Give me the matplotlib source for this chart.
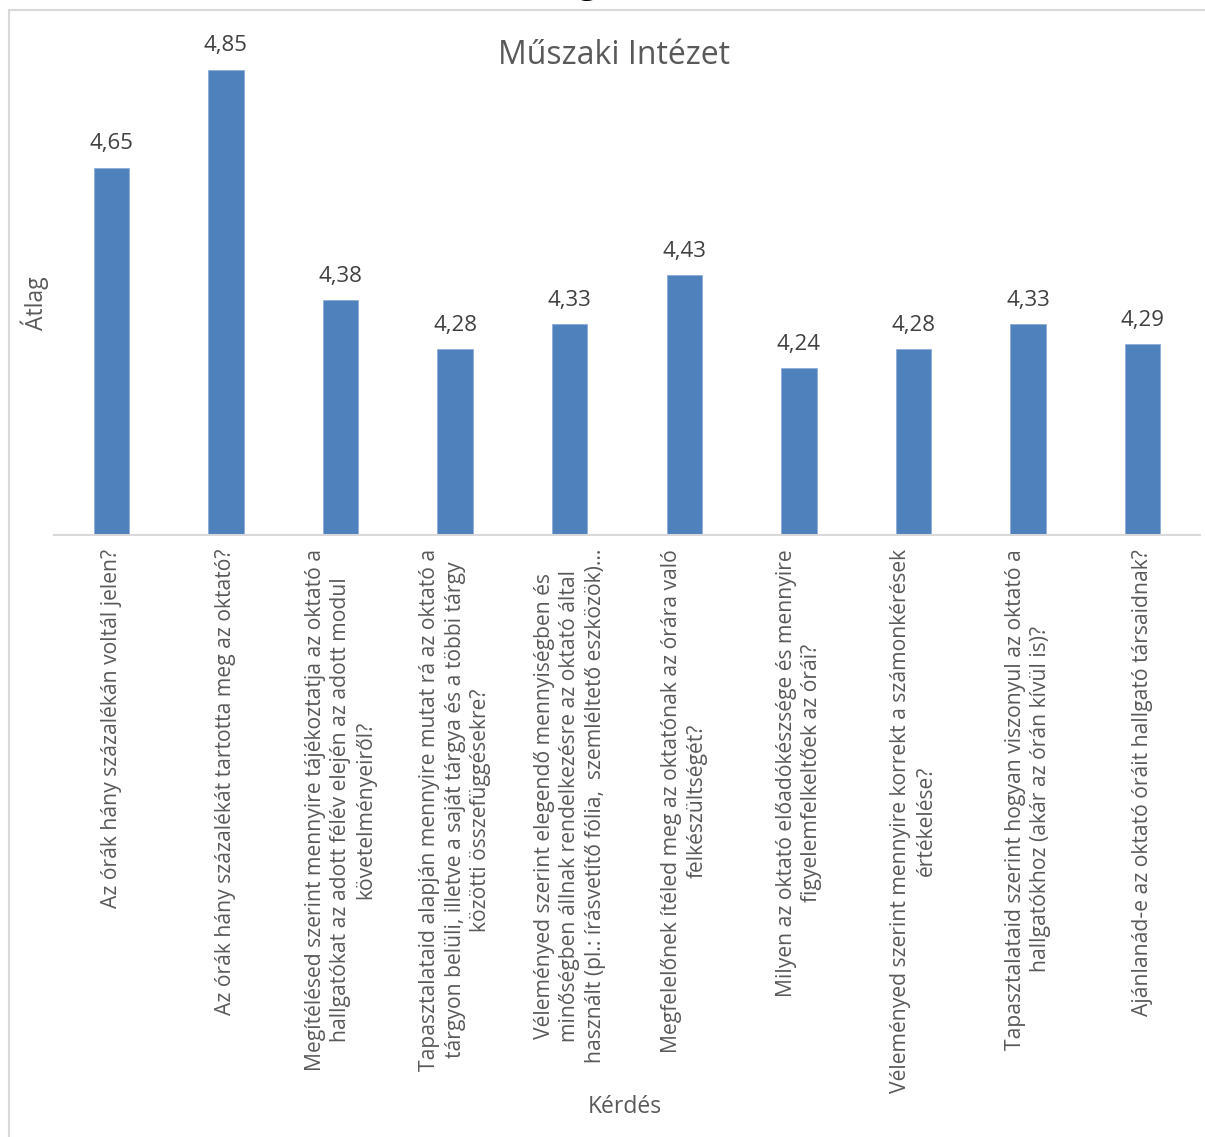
import matplotlib.pyplot as plt
from matplotlib.patches import Rectangle

# data
kerdesek = [
    "Az órák hány százalékán voltál jelen?",
    "Az órák hány százalékát tartotta meg az oktató?",
    "Megítélésed szerint mennyire tájékoztatja az oktató a\nhallgatókat az adott félév elején az adott modul\nkövetelményeiről?",
    "Tapasztalataid alapján mennyire mutat rá az oktató a\ntárgyon belüli, illetve a saját tárgya és a többi tárgy\nközötti összefüggésekre?",
    "Véleményed szerint elegendő mennyiségben és\nminőségben állnak rendelkezésre az oktató által\nhasznált (pl.: írásvetítő fólia,  szemléltető eszközök)...",
    "Megfelelőnek ítéled meg az oktatónak az órára való\nfelkészültségét?",
    "Milyen az oktató előadókészsége és mennyire\nfigyelemfelkeltőek az órái?",
    "Véleményed szerint mennyire korrekt a számonkérések\nértékelése?",
    "Tapasztalataid szerint hogyan viszonyul az oktató a\nhallgatókhoz (akár az órán kívül is)?",
    "Ajánlanád-e az oktató óráit hallgató társaidnak?",
]
atlag = [4.65, 4.85, 4.38, 4.28, 4.33, 4.43, 4.24, 4.28, 4.33, 4.29]

plt.rcParams['font.family'] = ['Open Sans', 'DejaVu Sans']

W, H = 1205, 1137
fig = plt.figure(figsize=(W / 100, H / 100), dpi=100)

# chart frame (only left and top edges are inside the picture)
fig.patches.append(Rectangle((9 / W, -0.1), 1.2, 1 - 10 / H + 0.1,
                             transform=fig.transFigure, fill=False,
                             edgecolor='#D9D9D9', lw=1.5))
# descender of the cut-off heading above the chart
fig.text(587 / W, 1 + 8 / H, "g", fontsize=26, ha='center', va='baseline', color='black')

ax = fig.add_axes([54 / W, (H - 535) / H, 1146 / W, 490 / H])
x = range(len(atlag))
bars = ax.bar(x, atlag, width=0.31, color='#4F81BD', edgecolor='#8EADD6', lw=0.6)
ax.set_xlim(-0.5, len(atlag) - 0.5)
ax.set_ylim(3.9, 4.9)
ax.bar_label(bars, labels=[f"{v:.2f}".replace('.', ',') for v in atlag],
             padding=9.5, fontsize=16, color='#404040')

ax.set_xticks(list(x))
ax.set_xticklabels(kerdesek, rotation=90, fontsize=15.2, color='#595959',
                   ha='center', va='top', multialignment='center', linespacing=1.27)
ax.tick_params(axis='x', length=0, pad=10)
ax.set_yticks([])
for s in ['top', 'right', 'left']:
    ax.spines[s].set_visible(False)
ax.spines['bottom'].set_color('#D9D9D9')
ax.spines['bottom'].set_linewidth(1.5)

fig.text(614 / W, 1 - 55 / H, "Műszaki Intézet", fontsize=23, color='#595959',
         ha='center', va='center')
fig.text(35 / W, 1 - 303 / H, "Átlag", fontsize=16.5, color='#595959',
         rotation=90, ha='center', va='center')
fig.text(625 / W, 1 - 1107 / H, "Kérdés", fontsize=16.5, color='#595959',
         ha='center', va='center')

fig.savefig("out.png", dpi=100)
